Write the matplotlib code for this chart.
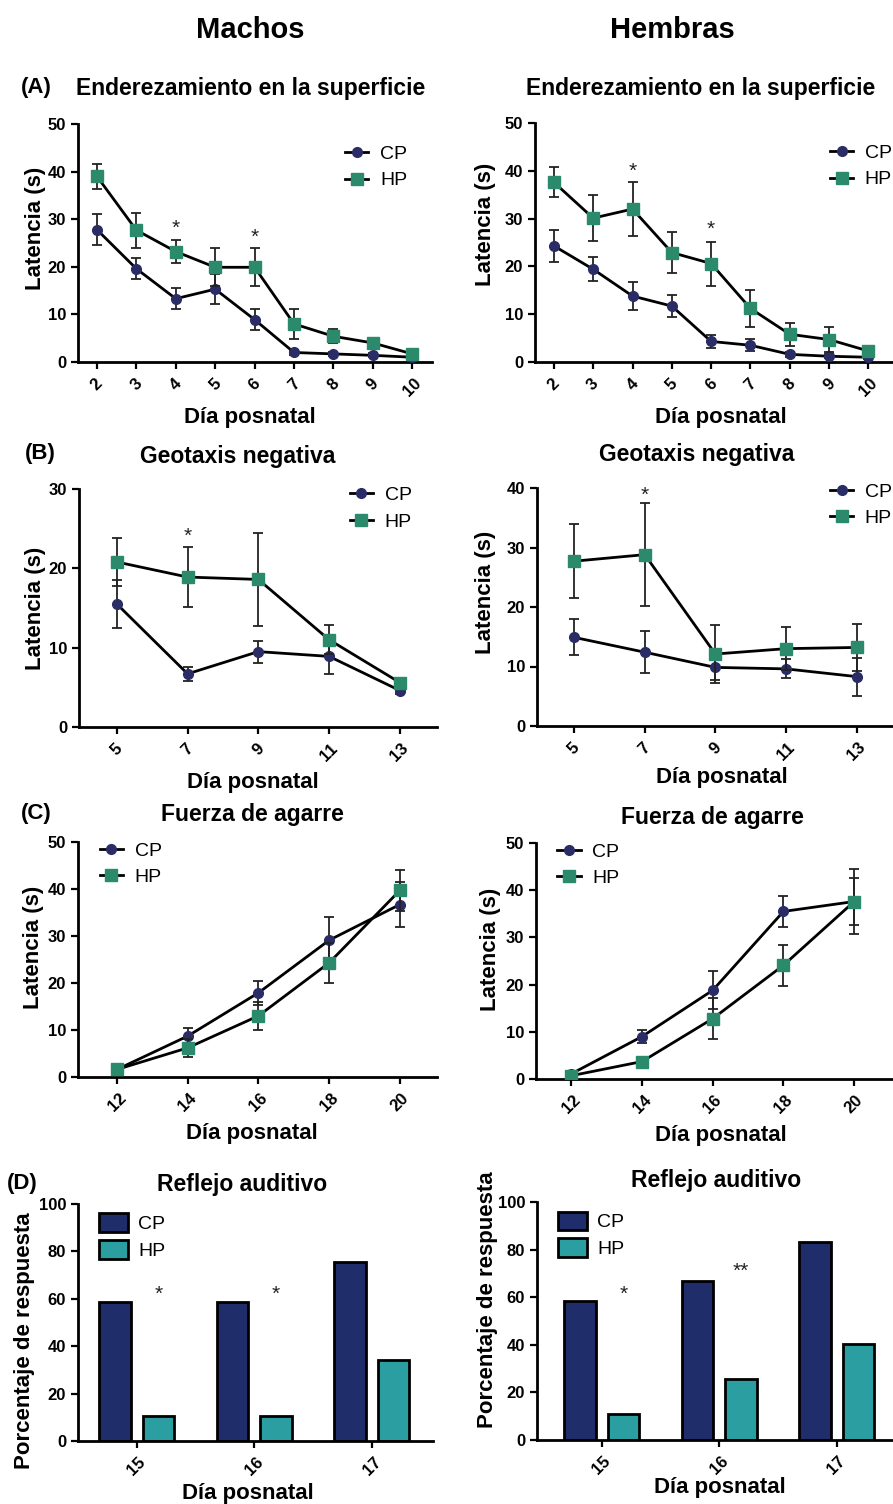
import matplotlib
matplotlib.use("Agg")
import matplotlib.pyplot as plt
from matplotlib.patches import Patch
from matplotlib.lines import Line2D

plt.rcParams['font.family'] = ['Liberation Sans', 'DejaVu Sans']

# ---- datos ----
dias_A = [2, 3, 4, 5, 6, 7, 8, 9, 10]
A_m_cp = [27.8, 19.6, 13.3, 15.3, 8.9, 2.0, 1.7, 1.4, 1.0]
A_m_cp_err = [3.3, 2.2, 2.2, 3.2, 2.2, 0.6, 0.5, 0.4, 0.3]
A_m_hp = [39.0, 27.7, 23.2, 19.9, 19.9, 8.0, 5.4, 4.0, 1.7]
A_m_hp_err = [2.7, 3.7, 2.4, 4.0, 4.0, 3.1, 1.5, 1.1, 0.5]
A_h_cp = [24.3, 19.4, 13.8, 11.7, 4.3, 3.5, 1.6, 1.2, 1.0]
A_h_cp_err = [3.4, 2.5, 2.9, 2.3, 1.3, 1.3, 0.5, 0.4, 0.3]
A_h_hp = [37.6, 30.1, 32.0, 22.9, 20.6, 11.2, 5.8, 4.7, 2.3]
A_h_hp_err = [3.1, 4.8, 5.6, 4.2, 4.6, 3.9, 2.4, 2.6, 0.5]

dias_B = [5, 7, 9, 11, 13]
B_m_cp = [15.5, 6.7, 9.5, 8.9, 4.6]
B_m_cp_err = [3.0, 0.9, 1.4, 2.2, 0.5]
B_m_hp = [20.8, 18.9, 18.6, 11.0, 5.6]
B_m_hp_err = [3.0, 3.8, 5.9, 1.8, 0.5]
B_h_cp = [14.9, 12.4, 9.85, 9.6, 8.3]
B_h_cp_err = [3.0, 3.5, 2.2, 1.6, 3.2]
B_h_hp = [27.7, 28.8, 12.1, 13.0, 13.2]
B_h_hp_err = [6.2, 8.7, 4.9, 3.6, 3.9]

dias_C = [12, 14, 16, 18, 20]
C_m_cp = [1.6, 8.7, 17.9, 29.1, 36.7]
C_m_cp_err = [0.4, 1.8, 2.5, 5.0, 4.7]
C_m_hp = [1.6, 6.2, 13.0, 24.3, 39.7]
C_m_hp_err = [0.4, 1.9, 2.9, 4.3, 4.3]
C_h_cp = [1.1, 9.0, 18.8, 35.5, 37.6]
C_h_cp_err = [0.5, 1.3, 4.0, 3.2, 4.9]
C_h_hp = [0.7, 3.7, 12.8, 24.1, 37.6]
C_h_hp_err = [0.3, 0.8, 4.3, 4.3, 6.8]

dias_D = [15, 16, 17]
D_m_cp = [58.8, 58.8, 75.5]
D_m_hp = [10.5, 10.5, 34.0]
D_h_cp = [58.5, 66.9, 83.2]
D_h_hp = [10.8, 25.5, 40.3]

# asteriscos (dia, altura, texto)
sig_A_m = [(4, 28.0, '*'), (6, 26.2, '*')]
sig_A_h = [(4, 39.8, '*'), (6, 27.7, '*')]
sig_B_m = [(7, 24.0, '*')]
sig_B_h = [(7, 38.8, '*')]
sig_D_m = [(15, 62, '*'), (16, 62, '*')]
sig_D_h = [(15, 61, '*'), (16, 71, '**')]

COL_CP = '#2a2c66'
COL_HP = '#2b8a6b'
BAR_CP = '#1f2d6b'
BAR_HP = '#2a9ea0'

W, H = 893, 1504
fig = plt.figure(figsize=(W / 100, H / 100), dpi=100)


def ejes(l, t, r, b):
    return fig.add_axes([l / W, 1 - b / H, (r - l) / W, (b - t) / H])


def texto(x, y, s, size=16, rot=0, weight='bold'):
    fig.text(x / W, 1 - y / H, s, fontsize=size, rotation=rot, weight=weight,
             ha='center', va='center')


def estilo(ax, xlim, ymax, ystep, xticks):
    ax.set_xlim(*xlim)
    ax.set_ylim(0, ymax)
    ax.set_yticks(range(0, ymax + 1, ystep))
    ax.set_xticks(xticks)
    ax.set_xticklabels([str(d) for d in xticks], rotation=45, ha='center')
    for s in ['top', 'right']:
        ax.spines[s].set_visible(False)
    for s in ['left', 'bottom']:
        ax.spines[s].set_linewidth(2)
    ax.tick_params(width=1.6, length=5, labelsize=12)
    ax.tick_params(axis='x', pad=5)
    for lab in ax.get_xticklabels() + ax.get_yticklabels():
        lab.set_fontweight('bold')


def lineas(ax, x, cp, cp_err, hp, hp_err, sig, xlim, ymax, ystep, loc, anchor):
    ax.errorbar(x, cp, yerr=cp_err, color='black', lw=2, marker='o', ms=7,
                mfc=COL_CP, mec=COL_CP, ecolor='#222222', elinewidth=1.3,
                capsize=3.5, capthick=1.3, label='CP', zorder=3)
    ax.errorbar(x, hp, yerr=hp_err, color='black', lw=2, marker='s', ms=8,
                mfc=COL_HP, mec=COL_HP, ecolor='#222222', elinewidth=1.3,
                capsize=3.5, capthick=1.3, label='HP', zorder=4)
    for d, y, s in sig:
        ax.text(d, y, s, ha='center', va='center', fontsize=15, color='#222222')
    estilo(ax, xlim, ymax, ystep, x)
    handles = [Line2D([], [], color='black', lw=2, marker='o', ms=7, mfc=COL_CP, mec=COL_CP),
               Line2D([], [], color='black', lw=2, marker='s', ms=8, mfc=COL_HP, mec=COL_HP)]
    ax.legend(handles, ['CP', 'HP'], loc=loc, bbox_to_anchor=anchor, frameon=False,
              fontsize=14, handlelength=1.2, handletextpad=0.6, labelspacing=0.45,
              borderaxespad=0, borderpad=0)


def barras(ax, x, cp, hp, sig, xlim):
    ax.bar([d - 0.185 for d in x], cp, width=0.27, color=BAR_CP, edgecolor='black', lw=2)
    ax.bar([d + 0.185 for d in x], hp, width=0.27, color=BAR_HP, edgecolor='black', lw=2)
    for d, y, s in sig:
        ax.text(d + 0.185, y, s, ha='center', va='center', fontsize=15, color='#222222')
    estilo(ax, xlim, 100, 20, x)
    handles = [Patch(facecolor=BAR_CP, edgecolor='black', lw=2),
               Patch(facecolor=BAR_HP, edgecolor='black', lw=2)]
    ax.legend(handles, ['CP', 'HP'], loc='upper left', bbox_to_anchor=(0.06, 0.96),
              frameon=False, fontsize=14, handlelength=1.5, handleheight=1.1,
              handletextpad=0.5, labelspacing=0.35, borderaxespad=0, borderpad=0)


# (A) Enderezamiento
ax = ejes(78, 124, 432, 362)
lineas(ax, dias_A, A_m_cp, A_m_cp_err, A_m_hp, A_m_hp_err, sig_A_m,
       (1.52, 10.5), 50, 10, 'upper right', (0.93, 0.91))
ax = ejes(535, 123, 892, 362)
lineas(ax, dias_A, A_h_cp, A_h_cp_err, A_h_hp, A_h_hp_err, sig_A_h,
       (1.52, 10.6), 50, 10, 'upper right', (1.0, 0.91))

# (B) Geotaxis
ax = ejes(79, 489, 437, 727)
lineas(ax, dias_B, B_m_cp, B_m_cp_err, B_m_hp, B_m_hp_err, sig_B_m,
       (3.93, 14.05), 30, 10, 'upper right', (0.93, 1.01))
ax = ejes(537, 488, 892, 726)
lineas(ax, dias_B, B_h_cp, B_h_cp_err, B_h_hp, B_h_hp_err, sig_B_h,
       (3.95, 14.0), 40, 10, 'upper right', (1.0, 1.02))

# (C) Fuerza de agarre
ax = ejes(78, 842, 437, 1077)
lineas(ax, dias_C, C_m_cp, C_m_cp_err, C_m_hp, C_m_hp_err, [],
       (10.9, 21.05), 50, 10, 'upper left', (0.06, 1.0))
ax = ejes(536, 843, 892, 1079)
lineas(ax, dias_C, C_h_cp, C_h_cp_err, C_h_hp, C_h_hp_err, [],
       (11.0, 21.07), 50, 10, 'upper left', (0.06, 1.0))

# (D) Reflejo auditivo
ax = ejes(78, 1204, 433, 1441)
barras(ax, dias_D, D_m_cp, D_m_hp, sig_D_m, (14.5, 17.52))
ax = ejes(537, 1202, 892, 1440)
barras(ax, dias_D, D_h_cp, D_h_hp, sig_D_h, (14.45, 17.47))

# textos
texto(250, 30, 'Machos', size=21)
texto(672, 30, 'Hembras', size=21)
texto(36, 87, '(A)')
texto(251, 88, 'Enderezamiento en la superficie', size=16.5)
texto(701, 88, 'Enderezamiento en la superficie', size=16.5)
texto(40, 453, '(B)')
texto(238, 457, 'Geotaxis negativa', size=16.5)
texto(697, 455, 'Geotaxis negativa', size=16.5)
texto(36, 813, '(C)')
texto(252, 815, 'Fuerza de agarre', size=16.5)
texto(712, 817, 'Fuerza de agarre', size=16.5)
texto(22, 1183, '(D)')
texto(242, 1185, 'Reflejo auditivo', size=16.5)
texto(716, 1180, 'Reflejo auditivo', size=16.5)

for x, y in [(35, 228), (486, 224), (35, 608), (485, 592), (33, 947), (490, 949)]:
    texto(x, y, 'Latencia (s)', rot=90)
texto(25, 1341, 'Porcentaje de respuesta', rot=90)
texto(488, 1300, 'Porcentaje de respuesta', rot=90)

for x, y in [(250, 418), (721, 418), (253, 782), (722, 778), (252, 1133), (721, 1135),
             (248, 1493), (720, 1488)]:
    texto(x, y, 'Día posnatal')

fig.savefig('out.png', dpi=100)
